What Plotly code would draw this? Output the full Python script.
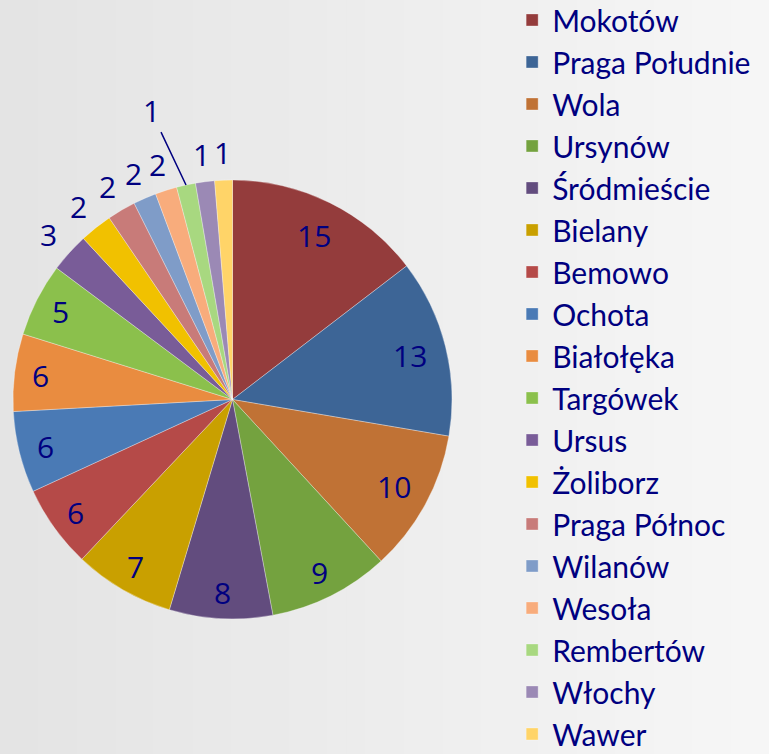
import math
import plotly.graph_objects as go

districts = ["Mokotów", "Praga Południe", "Wola", "Ursynów", "Śródmieście", "Bielany",
             "Bemowo", "Ochota", "Białołęka", "Targówek", "Ursus", "Żoliborz",
             "Praga Północ", "Wilanów", "Wesoła", "Rembertów", "Włochy", "Wawer"]
# shares (%); labels show them rounded
shares = [14.6, 13.1, 10.5, 8.9, 7.6, 7.4, 6.1, 6.0, 5.7, 5.4, 2.9, 2.4, 2.1, 1.7, 1.6, 1.4, 1.4, 1.3]

colors = ["#943c3c", "#3d6596", "#c07235", "#74a23f", "#624c7e", "#c9a000",
          "#b54a48", "#4a7ab5", "#e98c40", "#8bc04c", "#795c98", "#f1c100",
          "#c87b79", "#7f9cc8", "#f8ac7c", "#a8d880", "#9b89b5", "#ffd468"]

W, H = 769, 754
CX, CY, R = 232.5, 399.5, 219.5          # pie centre / radius in pixels
LABEL_COLOR = "#000080"
FONT = "Open Sans"

fig = go.Figure()
fig.add_trace(go.Pie(
    labels=districts,
    values=shares,
    sort=False,
    direction="clockwise",
    rotation=0,
    marker=dict(colors=colors, line=dict(color="rgba(255,255,255,0.45)", width=0.7)),
    textinfo="none",
    hoverinfo="label+value",
    domain=dict(x=[(CX - R) / W, (CX + R) / W], y=[(H - CY - R) / H, (H - CY + R) / H]),
    showlegend=True,
))

# data labels placed radially from the cumulative values
total = sum(shares)
annotations = []
cum = 0
for name, v in zip(districts, shares):
    theta = 2 * math.pi * (cum + v / 2) / total
    cum += v
    txt = f"{v:.0f}"
    lab_font = dict(family=FONT, size=30, color=LABEL_COLOR)
    if name == "Rembertów":
        px_ = CX + R * math.sin(theta)
        py_ = CY - R * math.cos(theta)
        annotations.append(dict(
            x=px_ / W, y=1 - py_ / H, xref="paper", yref="paper",
            text=txt, showarrow=True, arrowhead=0, arrowwidth=1.5,
            arrowcolor=LABEL_COLOR, ax=-35, ay=-74, standoff=0, startstandoff=0,
            font=lab_font))
        continue
    if v >= 5:
        r = R * (0.835 if len(txt) == 2 else 0.88)
    else:
        r = R + 27.5
    px_ = CX + r * math.sin(theta)
    py_ = CY - r * math.cos(theta)
    annotations.append(dict(
        x=px_ / W, y=1 - py_ / H, xref="paper", yref="paper",
        text=txt, showarrow=False, xanchor="center", yanchor="middle",
        font=lab_font))

# background gradient (light gray, darker on the left)
shapes = []
n = 40
for i in range(n):
    t = i / (n - 1)
    c = int(round(0xe4 + (0xf6 - 0xe4) * t))
    shapes.append(dict(type="rect", xref="paper", yref="paper",
                       x0=i / n, x1=(i + 1) / n + 0.002, y0=0, y1=1,
                       fillcolor=f"rgb({c},{c},{c})", line=dict(width=0), layer="below"))

fig.update_layout(
    width=W, height=H,
    margin=dict(l=0, r=0, t=0, b=0, autoexpand=False),
    paper_bgcolor="#eeeeee",
    plot_bgcolor="rgba(0,0,0,0)",
    shapes=shapes,
    annotations=annotations,
    legend=dict(
        x=0.666, xanchor="left", y=1.008, yanchor="top",
        font=dict(family="Lato", size=30, color=LABEL_COLOR),
        bgcolor="rgba(0,0,0,0)",
        itemwidth=30,
        maxheight=2000,
        traceorder="normal",
    ),
)

fig.write_html("out.html", config={"displayModeBar": False},
               post_script="document.body.style.margin='0px';")
